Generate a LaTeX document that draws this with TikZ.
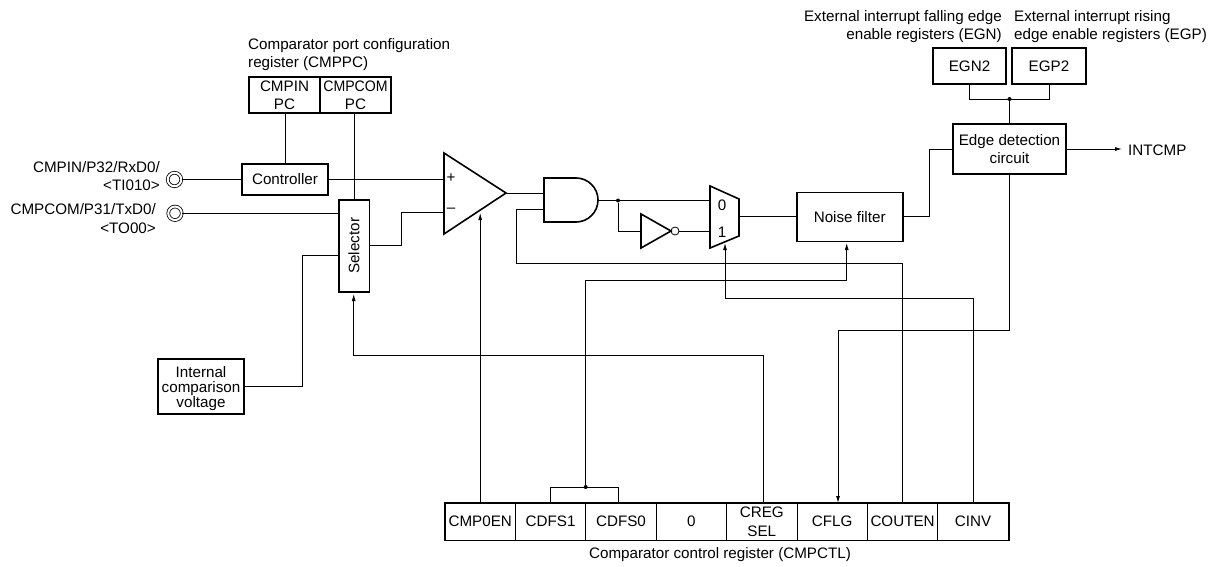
\documentclass[tikz,border=0pt]{standalone}
\usepackage{fontspec}
\setmainfont{Liberation Sans}
\usetikzlibrary{arrows.meta}
\tikzset{
  boxthick/.style={draw,line width=1.6pt,inner sep=0pt,align=center},
  cellthin/.style={draw,line width=0.8pt,inner sep=0pt,align=center,minimum width=70.4pt,minimum height=37pt},
  plaintext/.style={inner sep=0pt,align=center},
  wire/.style={line width=0.9pt},
  sigarrow/.style={line width=0.9pt,-{Latex[length=7pt,width=4pt]}},
  terminal/.style={circle,draw,line width=0.8pt,double,double distance=2pt,minimum size=13.5pt,inner sep=0pt},
  dotjoin/.style={circle,fill,inner sep=0pt,minimum size=4pt}
}
\begin{document}
\begin{tikzpicture}[x=1pt,y=-1pt,every node/.append style={font=\fontsize{15.2}{18.4}\selectfont}]
\useasboundingbox (0,0) rectangle (1217,567);
% port configuration register
\node[plaintext,align=left,anchor=west] (cmppclabel) at (248,54.5) {Comparator port configuration\\register (CMPPC)};
\node[boxthick,minimum width=71pt,minimum height=36pt] (cmpinpc) at (284.5,95) {CMPIN\\PC};
\node[boxthick,minimum width=71pt,minimum height=36pt] (cmpcompc) at (355.5,95) {\scalebox{0.93}[1]{CMPCOM}\\PC};
% input pins
\node[terminal] (pinin) at (174.5,179.5) {};
\node[terminal] (pincom) at (175,213.3) {};
\node[plaintext,align=right,anchor=east] (pininlabel) at (160,176) {CMPIN/P32/RxD0/\\<TI010>};
\node[plaintext,align=right,anchor=east] (pincomlabel) at (156,218.5) {CMPCOM/P31/TxD0/\\<TO00>};
\node[boxthick,minimum width=86pt,minimum height=31pt] (controller) at (285,179.5) {Controller};
\node[boxthick,minimum width=30.6pt,minimum height=92pt] (selector) at (354,245.8) {\rotatebox{90}{Selector}};
\node[boxthick,minimum width=86pt,minimum height=55pt,font=\fontsize{15.2}{14.8}\selectfont] (intvolt) at (201,386.5) {\rule{0pt}{15pt}Internal\\comparison\\voltage};
% comparator, gates, mux
\coordinate (compa) at (444,153);
\coordinate (compb) at (444,234);
\coordinate (compc) at (506,193);
\draw[line width=1.6pt,line join=miter] (compa)--(compc)--(compb)--cycle;
\node[plaintext] (plus) at (451,178) {+};
\node[plaintext] (minus) at (451,210) {--};
\coordinate (anda) at (544,178);
\coordinate (andb) at (544,222);
\coordinate (ando) at (598,200.5);
\draw[line width=1.6pt] (anda)--(576,178) arc (-90:90:22)--(andb)--cycle;
\coordinate (inva) at (641,214);
\coordinate (invb) at (641,248);
\coordinate (invc) at (671,231);
\draw[line width=1.6pt] (inva)--(invc)--(invb)--cycle;
\node[circle,draw,line width=0.8pt,minimum size=8pt,inner sep=0pt] (invbub) at (675,231) {};
\coordinate (muxa) at (710,186);
\coordinate (muxb) at (739,199);
\coordinate (muxc) at (739,236);
\coordinate (muxd) at (710,248);
\draw[line width=1.6pt] (muxa)--(muxb)--(muxc)--(muxd)--cycle;
\node[plaintext] (mux0) at (722,205) {0};
\node[plaintext] (mux1) at (722,232) {1};
\node[boxthick,minimum width=106pt,minimum height=49pt] (noise) at (849.7,216.8) {Noise filter};
\node[boxthick,minimum width=113pt,minimum height=50pt] (edge) at (1009.5,149) {Edge detection\\circuit};
% edge enable registers
\node[plaintext,align=right,anchor=east] (egnlabel) at (1002,26.5) {External interrupt falling edge\\enable registers (EGN)};
\node[plaintext,align=left,anchor=west] (egplabel) at (1014,26.5) {External interrupt rising\\edge enable registers (EGP)};
\node[boxthick,minimum width=73pt,minimum height=36pt] (egn) at (969.5,66) {EGN2};
\node[boxthick,minimum width=74pt,minimum height=36pt] (egp) at (1049,66) {EGP2};
\node[dotjoin] (egjoin) at (1009.5,99) {};
\node[plaintext,anchor=west] (intcmp) at (1128,150) {INTCMP};
\coordinate (intout) at (1122,149);
% control register
\node[cellthin] (cmp0en) at (480.2,521.7) {\raisebox{-2.5pt}{CMP0EN}};
\node[cellthin] (cdfs1) at (550.6,521.7) {\raisebox{-2.5pt}{CDFS1}};
\node[cellthin] (cdfs0) at (621,521.7) {\raisebox{-2.5pt}{CDFS0}};
\node[cellthin] (zerobit) at (691.4,521.7) {\raisebox{-5pt}{0}};
\node[cellthin] (cregsel) at (761.8,521.7) {CREG\\SEL};
\node[cellthin] (cflg) at (832.2,521.7) {\raisebox{-2.5pt}{CFLG}};
\node[cellthin] (couten) at (902.6,521.7) {\raisebox{-2.5pt}{COUTEN}};
\node[cellthin] (cinv) at (973,521.7) {\raisebox{-2.5pt}{CINV}};
\node[draw,line width=1.6pt,minimum width=564pt,minimum height=37.5pt,inner sep=0pt] (cmpctl) at (727,521.7) {};
\node[plaintext] (cmpctllabel) at (720,555) {Comparator control register (CMPCTL)};
\node[dotjoin] (cdfsjoin) at (585.7,487) {};
\node[dotjoin] (andjoin) at (618,200.5) {};
% wires
\draw[wire] (controller.north |- cmpinpc.south)--(controller.north);
\draw[wire] (selector.north |- cmpcompc.south)--(selector.north);
\draw[wire] (pinin)--(controller.west |- pinin);
\draw[wire] (controller.east)--(444,179.5);
\draw[wire] (pincom)--(selector.west |- pincom);
\draw[wire] (selector.east)--(401.3,245.8)--(401.3,212.3)--(444,212.3);
\draw[wire] (intvolt.east)--(302.7,386.5)--(302.7,255)--(selector.west |- 0,255);
\draw[wire] (compc)--(544,193);
\draw[wire] (ando)--(andjoin);
\draw[wire] (andjoin)--(710,200.5);
\draw[wire] (andjoin)--(618,231)--(641,231);
\draw[wire] (invbub)--(710,231);
\draw[wire] (739,216.8)--(noise.west);
\draw[wire] (noise.east)--(929,216.8)--(929,149)--(edge.west);
\draw[wire] (egn.south)--(969.5,99)--(1049,99)--(egp.south);
\draw[wire] (egjoin)--(edge.north);
\draw[sigarrow] (edge.east)--(intout);
\draw[wire] (544,209)--(516.7,209)--(516.7,263.3)--(couten.north |- 0,263.3)--(couten.north);
\draw[sigarrow] (cmp0en.north)--(480.2,213);
\draw[wire] (550,503)--(550,487)--(618,487)--(618,503);
\draw[sigarrow] (cdfsjoin)--(585.7,280)--(846.7,280)--(846.7,243);
\draw[sigarrow] (cinv.north)--(973,298)--(725,298)--(725,243);
\draw[sigarrow] (763,503)--(763,355)--(353.7,355)--(353.7,294);
\draw[sigarrow] (edge.south)--(1009.5,330)--(838,330)--(838,503);
\end{tikzpicture}
\end{document}
